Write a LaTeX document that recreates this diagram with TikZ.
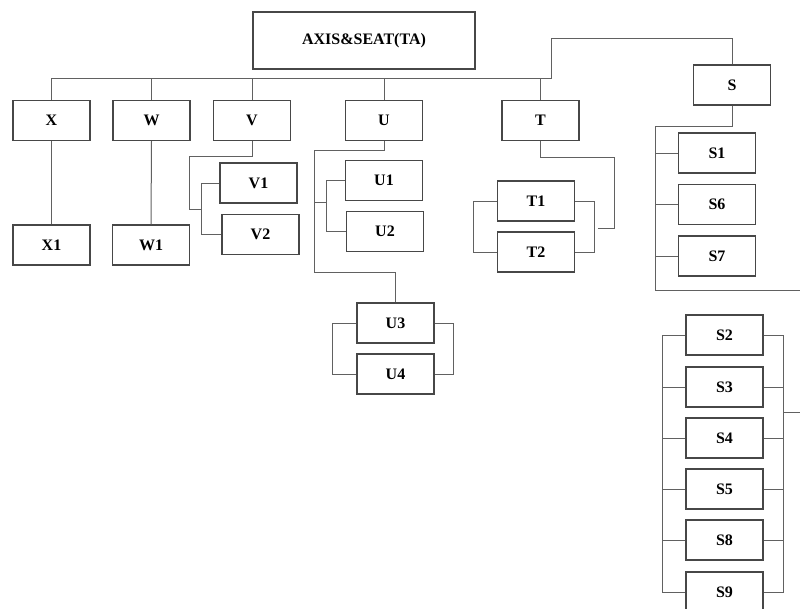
\documentclass[tikz,border=0pt]{standalone}
\usepackage{fontspec}
\setmainfont{Liberation Serif}
\usetikzlibrary{positioning,calc}

\begin{document}
\begin{tikzpicture}[x=1pt, y=-1pt,
  blk/.style={draw=black!72, line width=1.1pt, minimum width=77pt, minimum height=40pt, inner sep=0pt, font=\bfseries\fontsize{16}{19}\selectfont},
  wire/.style={draw=black!62, line width=1pt}]
  \useasboundingbox (0,0) rectangle (800,608);
  % root and first level
  \node[blk, minimum width=222pt, minimum height=57pt] (root) at (364,40.5) {AXIS\&SEAT(TA)};
  \node[blk] (X) at (51.5,120.5) {X};
  \node[blk] (W) at (151.5,120.5) {W};
  \node[blk] (V) at (252,120.5) {V};
  \node[blk] (U) at (384,120.5) {U};
  \node[blk] (T) at (540.5,120.5) {T};
  \node[blk] (S) at (732,85) {S};

  % second level
  \node[blk] (X1) at (51.5,245) {X1};
  \node[blk] (W1) at (151,245) {W1};
  \node[blk] (V1) at (258.5,183) {V1};
  \node[blk] (V2) at (260.5,234.5) {V2};
  \node[blk] (U1) at (384,180.5) {U1};
  \node[blk] (U2) at (385,231.5) {U2};
  \node[blk] (U3) at (395.5,323) {U3};
  \node[blk] (U4) at (395.5,374) {U4};
  \node[blk] (T1) at (536,201) {T1};
  \node[blk] (T2) at (536,252) {T2};
  \node[blk] (S1) at (717,153) {S1};
  \node[blk] (S6) at (717,204.5) {S6};
  \node[blk] (S7) at (717,256) {S7};
  \node[blk] (S2) at (724.5,335) {S2};
  \node[blk] (S3) at (724.5,387) {S3};
  \node[blk] (S4) at (724.5,438) {S4};
  \node[blk] (S5) at (724.5,489) {S5};
  \node[blk] (S8) at (724.5,540) {S8};
  \node[blk] (S9) at (724.5,592) {S9};

  % bus
  \coordinate (bus) at (551,78);
  \draw[wire] (X.north) |- (bus) -- ++(0,-40) -| (S.north);
  \foreach \n in {W,V,U,T}
    \draw[wire] (\n.north) -- (\n.north |- bus);
  \draw[wire] (X.south) -- (X1.north);
  \draw[wire] (W.south) -- (W1.north);

  % V branch
  \draw[wire] (V.south) -- ++(0,15) -| ++(-63,53) -- ++(13,0);
  \draw[wire] (V1.west) -- ++(-18,0) |- (V2.west);

  % U branch
  \draw[wire] (U.south) -- ++(0,9) -| ++(-70,122) -| (U3.north);
  \draw[wire] (314,202) -- (327,202);
  \draw[wire] (U1.west) -- ++(-18,0) |- (U2.west);
  \draw[wire] (U3.west) -- ++(-24,0) |- (U4.west);
  \draw[wire] (U3.east) -- ++(19,0) |- (U4.east);

  % T branch
  \draw[wire] (T.south) -- ++(0,16) -| ++(74,71) -- ++(-17,0);
  \draw[wire] (T1.west) -- ++(-23,0) |- (T2.west);
  \draw[wire] (T1.east) -- ++(19,0) |- (T2.east);

  % S branch
  \coordinate (sx) at (655,126);
  \draw[wire] (S.south) |- (sx) |- (800,290);
  \foreach \n in {S1,S6,S7}
    \draw[wire] (\n.west) -- (\n.west -| sx);
  \draw[wire] (S2.west) -- ++(-23,0) |- (S9.west);
  \draw[wire] (S2.east) -- ++(20,0) |- (S9.east);
  \foreach \n in {S3,S4,S5,S8} {
    \draw[wire] (\n.west) -- ++(-23,0);
    \draw[wire] (\n.east) -- ++(20,0);
  }
  \draw[wire] (783,412) -- (800,412);
\end{tikzpicture}
\end{document}
